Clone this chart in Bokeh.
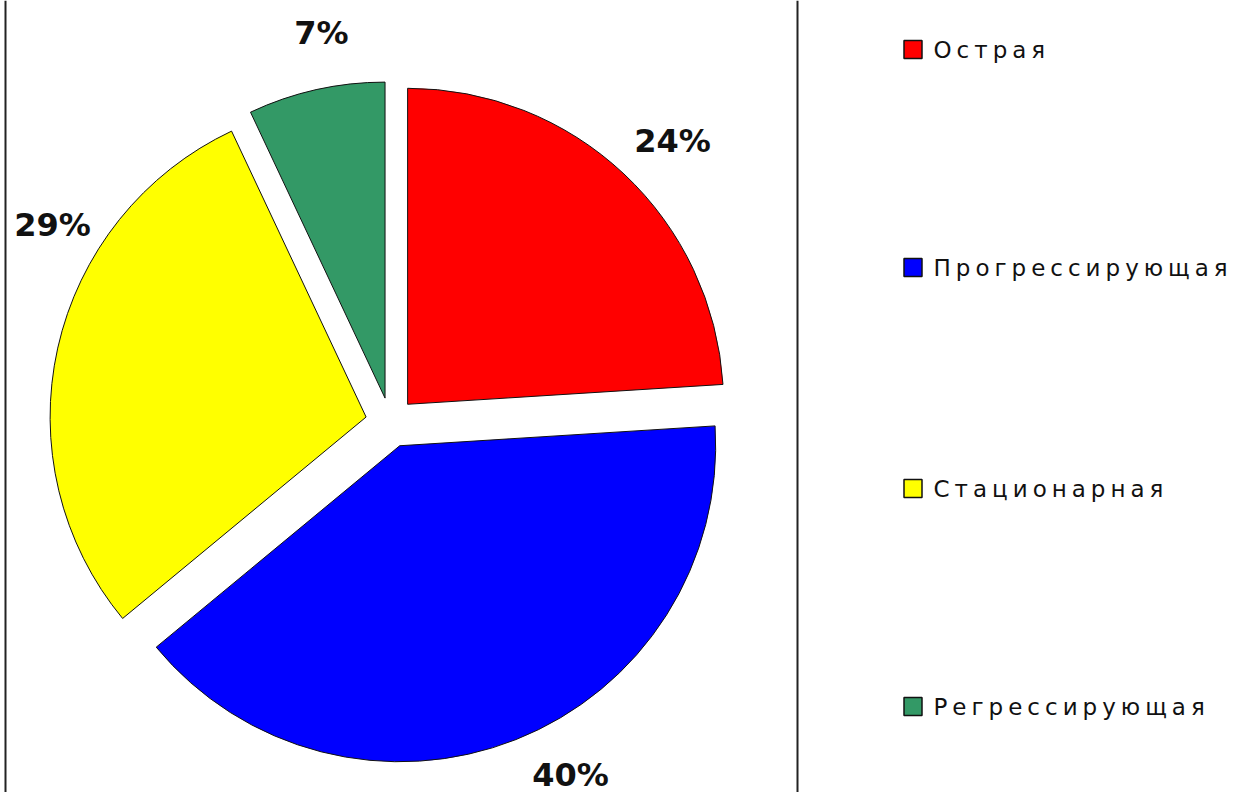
import numpy as np
from bokeh.plotting import figure
from bokeh.models import Range1d, ColumnDataSource, Span
from bokeh.layouts import row
from bokeh.core.properties import value
from bokeh.embed import file_html
from bokeh.resources import INLINE

# ---- data ----
categories = ["Острая", "Прогрессирующая", "Стационарная", "Регрессирующая"]
percents = [24, 40, 29, 7]
colors = ["#FF0000", "#0000FF", "#FFFF00", "#339966"]
label_texts = [f"{v}%" for v in percents]

# ---- layout (page pixel coordinates) ----
FIG_H = 792
def py(y):
    return FIG_H - y

CX, CY = 390, py(422)
RADIUS = 316
EXPLODE = 25
label_pos = [(672, 140), (570, 774), (52, 224), (321, 32)]
legend_y = [49, 267, 488, 706]

frac = np.array(percents, dtype=float) / sum(percents)
a_start = np.pi / 2 - 2 * np.pi * np.concatenate([[0], np.cumsum(frac)[:-1]])
a_end = a_start - 2 * np.pi * frac
mid = (a_start + a_end) / 2

src = ColumnDataSource(dict(
    x=CX + EXPLODE * np.cos(mid),
    y=CY + EXPLODE * np.sin(mid),
    start=a_end,
    end=a_start,
    color=colors,
    cat=categories,
))

p = figure(width=800, height=FIG_H, output_backend="svg", toolbar_location=None,
           x_range=Range1d(0, 800), y_range=Range1d(0, FIG_H),
           x_axis_type=None, y_axis_type=None, min_border=0,
           outline_line_color=None, background_fill_color="white")
p.grid.visible = False

p.wedge(x="x", y="y", radius=RADIUS, start_angle="start", end_angle="end",
        fill_color="color", line_color="#111111", line_width=1, source=src)

lab = ColumnDataSource(dict(
    x=[lp[0] for lp in label_pos],
    y=[py(lp[1]) for lp in label_pos],
    t=label_texts,
))
p.text(x="x", y="y", text="t", source=lab, text_align="center",
       text_baseline="middle", text_font=value("DejaVu Sans"),
       text_font_style="bold", text_font_size="32px", text_color="#111111")

p.add_layout(Span(location=5, dimension="height", line_color="#222222", line_width=2))
p.add_layout(Span(location=797, dimension="height", line_color="#222222", line_width=2))

# ---- legend figure ----
lg = figure(width=440, height=FIG_H, output_backend="svg", toolbar_location=None,
            x_range=Range1d(800, 1240), y_range=Range1d(0, FIG_H),
            x_axis_type=None, y_axis_type=None, min_border=0,
            outline_line_color=None, background_fill_color="white",
            styles={"letter-spacing": "5px"})
lg.grid.visible = False

leg = ColumnDataSource(dict(
    x=[912.5] * len(categories),
    tx=[933] * len(categories),
    y=[py(v) for v in legend_y],
    color=colors,
    cat=categories,
))
lg.rect(x="x", y="y", width=18, height=18, fill_color="color",
        line_color="#111111", line_width=1.5, source=leg)
lg.text(x="tx", y="y", text="cat", source=leg, text_align="left",
        text_baseline="middle", text_font=value("DejaVu Sans"),
        text_font_size="23px", text_color="#111111")

layout = row(p, lg, spacing=0)
open("out.html", "w").write(file_html(layout, INLINE))
